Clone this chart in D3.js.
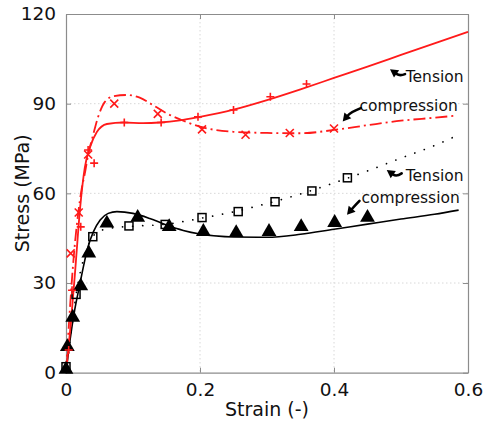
<!DOCTYPE html>
<html><head><meta charset="utf-8">
<script src="https://cdn.jsdelivr.net/npm/d3@7"></script>
<style>body{margin:0;background:#fff}svg{display:block}</style>
</head><body><svg id="c" width="486" height="428"></svg>
<script>
// Tick labels
const xTicks = [0, 0.2, 0.4, 0.6];
const yTicks = [0, 30, 60, 90, 120];
const xTickLabels = ["0", "0.2", "0.4", "0.6"];
const yTickLabels = ["0", "30", "60", "90", "120"];

// Fitted curves [strain, stress]
const redTensionCurve = [[0,0],[0.007,16],[0.014,35],[0.021,55],[0.028,68.5],[0.036,75.5],[0.046,80.5],[0.061,83.2],[0.086,83.7],[0.115,83.5],[0.14,83.7],[0.17,84.4],[0.2,85.6],[0.25,88],[0.3,91.2],[0.35,94.8],[0.4,98.6],[0.45,102.4],[0.5,106.3],[0.55,110.2],[0.6,114]];
const redCompCurve = [[0,0],[0.006,22],[0.012,40],[0.018,53],[0.023,61],[0.028,66.5],[0.033,72.8],[0.041,80],[0.048,85.6],[0.058,90.6],[0.071,92.5],[0.091,92.9],[0.11,92],[0.13,89.5],[0.15,86.8],[0.175,84.3],[0.2,82.3],[0.25,80.6],[0.3,80.2],[0.35,80.1],[0.4,81.2],[0.45,82.8],[0.5,84.3],[0.55,85.3],[0.583,86]];
const blackCompCurve = [[0,0],[0.006,10.9],[0.013,21],[0.02,28.8],[0.026,35.5],[0.033,42.2],[0.041,47.2],[0.051,51.1],[0.063,53.3],[0.076,53.9],[0.1,53.3],[0.125,51.6],[0.15,49.4],[0.175,47.6],[0.2,46.4],[0.25,45.4],[0.3,45.3],[0.35,46.3],[0.4,48],[0.45,49.7],[0.5,51.4],[0.55,53],[0.586,54.4]];
const blackTensionCurve = [[0,0],[0.008,14],[0.015,26],[0.025,37],[0.04,45.5],[0.055,47.8],[0.075,48.6],[0.1,49],[0.15,49.7],[0.2,51.6],[0.25,53.8],[0.3,56.6],[0.35,59.8],[0.4,63.5],[0.45,67.5],[0.5,71.8],[0.55,76],[0.59,80]];

// Experimental points
const redTensionPts = [[0.004,7.6],[0.009,27.6],[0.022,48.8],[0.033,74.5],[0.042,70.1],[0.087,83.7],[0.142,83.7],[0.197,85.6],[0.25,87.9],[0.305,92.3],[0.359,96.6]];
const redCompPts = [[0.007,39.9],[0.019,53.6],[0.033,73],[0.072,90],[0.137,86.6],[0.203,81.4],[0.268,79.6],[0.334,80.2],[0.4,81.7]];
const blackCompPts = [[0,1.1],[0.002,8.7],[0.01,18.5],[0.022,29],[0.034,40],[0.061,50],[0.107,51.9],[0.154,48.8],[0.205,47.2],[0.254,46.8],[0.303,47.2],[0.351,48.8],[0.401,50.2],[0.45,51.9]];
const blackTensionPts = [[0,2],[0.015,26.2],[0.04,45.5],[0.094,49.1],[0.148,49.6],[0.203,51.9],[0.257,53.9],[0.312,57.2],[0.367,60.8],[0.42,65.2]];

// Annotations (text anchor and arrow tail/tip in data units)
const annotationTexts = ["Tension", "compression", "Tension", "compression"];
const annotationPos = [[0.507, 99.2], [0.438, 89.2], [0.507, 66.0], [0.441, 58.6]];
const arrowTails = [[0.506, 99.9], [0.440, 88.5], [0.501, 66.7], [0.438, 57.5]];
const arrowTips = [[0.4836, 101.5], [0.413, 84.0], [0.4787, 67.8], [0.4194, 52.8]];

const svg = d3.select("#c");
const L = 66, R = 468, T = 14, B = 372.7;
const x = d3.scaleLinear().domain([0, 0.6]).range([L, R]);
const y = d3.scaleLinear().domain([0, 120]).range([B, T]);
const font = "'DejaVu Sans', Verdana, sans-serif";
const red = "#ff1a1a";

// grid
const g = svg.append("g");
g.selectAll(".gx").data(xTicks.slice(1, -1)).enter().append("line")
  .attr("x1", d => x(d)).attr("x2", d => x(d)).attr("y1", T).attr("y2", B)
  .attr("stroke", "#d8d8d8").attr("stroke-dasharray", "1.5,2.5");
g.selectAll(".gy").data(yTicks.slice(1, -1)).enter().append("line")
  .attr("y1", d => y(d)).attr("y2", d => y(d)).attr("x1", L).attr("x2", R)
  .attr("stroke", "#d8d8d8").attr("stroke-dasharray", "1.5,2.5");

// axes (ticks inward, mirrored)
const axB = d3.axisBottom(x).tickValues(xTicks).tickFormat((d,i) => xTickLabels[i]).tickSizeInner(-5).tickSizeOuter(0).tickPadding(10);
const axL = d3.axisLeft(y).tickValues(yTicks).tickFormat((d,i) => yTickLabels[i]).tickSizeInner(-5).tickSizeOuter(0).tickPadding(10);
const axT = d3.axisTop(x).tickValues(xTicks).tickFormat("").tickSizeInner(-5).tickSizeOuter(0);
const axR = d3.axisRight(y).tickValues(yTicks).tickFormat("").tickSizeInner(-5).tickSizeOuter(0);
const gb = svg.append("g").attr("transform", `translate(0,${B})`).call(axB);
const gl = svg.append("g").attr("transform", `translate(${L},0)`).call(axL);
const gt = svg.append("g").attr("transform", `translate(0,${T})`).call(axT);
const gr = svg.append("g").attr("transform", `translate(${R},0)`).call(axR);
[gb, gl, gt, gr].forEach(a => {
  a.selectAll("path.domain").attr("stroke", "#8c8c8c").attr("stroke-width", 1.2);
  a.selectAll(".tick line").attr("stroke", "#8c8c8c");
  a.selectAll("text").attr("font-family", font).attr("font-size", 18.5).attr("fill", "#111");
});

// curves
const line = d3.line().x(d => x(d[0])).y(d => y(d[1])).curve(d3.curveMonotoneX);
const plot = svg.append("g");
plot.append("path").datum(blackTensionCurve).attr("d", line).attr("fill", "none")
  .attr("stroke", "#000").attr("stroke-width", 1.7).attr("stroke-dasharray", "0.1,10").attr("stroke-linecap", "round");
plot.append("path").datum(blackCompCurve).attr("d", line).attr("fill", "none")
  .attr("stroke", "#000").attr("stroke-width", 1.6);
plot.append("path").datum(redCompCurve).attr("d", line).attr("fill", "none")
  .attr("stroke", red).attr("stroke-width", 1.8).attr("stroke-dasharray", "12,4,2,4");
plot.append("path").datum(redTensionCurve).attr("d", line).attr("fill", "none")
  .attr("stroke", red).attr("stroke-width", 1.8);

// markers
plot.selectAll(".sq").data(blackTensionPts).enter().append("rect")
  .attr("x", d => x(d[0]) - 4).attr("y", d => y(d[1]) - 4).attr("width", 8).attr("height", 8)
  .attr("fill", "none").attr("stroke", "#000").attr("stroke-width", 1.5);
const tri = d3.symbol().type(d3.symbolTriangle).size(95);
plot.selectAll(".tri").data(blackCompPts).enter().append("path")
  .attr("d", tri).attr("transform", d => `translate(${x(d[0])},${y(d[1])})`).attr("fill", "#000");
plot.selectAll(".pl").data(redTensionPts).enter().append("path")
  .attr("d", "M-4,0H4M0,-4V4").attr("transform", d => `translate(${x(d[0])},${y(d[1])})`)
  .attr("stroke", red).attr("stroke-width", 1.6);
plot.selectAll(".xx").data(redCompPts).enter().append("path")
  .attr("d", "M-4,-4L4,4M-4,4L4,-4").attr("transform", d => `translate(${x(d[0])},${y(d[1])})`)
  .attr("stroke", red).attr("stroke-width", 1.6);

// annotations
const ann = svg.append("g");
annotationTexts.forEach((t, i) => {
  ann.append("text").attr("x", x(annotationPos[i][0])).attr("y", y(annotationPos[i][1])).attr("dy", "0.35em")
    .attr("font-family", font).attr("font-size", 15.5).attr("fill", "#111").text(t);
  const x0 = x(arrowTails[i][0]), y0 = y(arrowTails[i][1]), x1 = x(arrowTips[i][0]), y1 = y(arrowTips[i][1]);
  // head direction: up-left for "Tension", down-left for "compression"
  const a = (t === "Tension") ? -145 * Math.PI / 180 : 130 * Math.PI / 180;
  const c = Math.cos(a), s = Math.sin(a);
  const bx = x1 - 8 * c, by = y1 - 8 * s;
  const cx = bx - 4 * c, cy = by - 4 * s;
  ann.append("path").attr("d", `M${x0},${y0}Q${cx},${cy} ${bx},${by}`).attr("fill", "none")
    .attr("stroke", "#000").attr("stroke-width", 2.6).attr("stroke-linecap", "round");
  const px = -s * 4.5, py = c * 4.5;
  ann.append("path").attr("d", `M${x1},${y1}L${bx + px},${by + py}L${bx - px},${by - py}Z`).attr("fill", "#000");
});

// axis titles
svg.append("text").attr("x", (L + R) / 2).attr("y", 416).attr("text-anchor", "middle")
  .attr("font-family", font).attr("font-size", 19).attr("fill", "#111").text("Strain (-)");
svg.append("text").attr("transform", `translate(29,${(T + B) / 2}) rotate(-90)`).attr("text-anchor", "middle")
  .attr("font-family", font).attr("font-size", 19).attr("fill", "#111").text("Stress (MPa)");
</script></body></html>
